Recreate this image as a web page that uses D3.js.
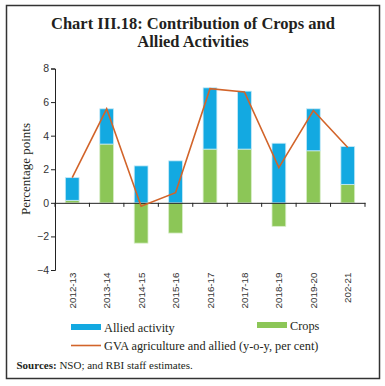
<!DOCTYPE html>
<html><head><meta charset="utf-8">
<script src="https://cdn.jsdelivr.net/npm/d3@7"></script>
<style>body{margin:0;background:#fff}svg{display:block}</style>
</head><body>
<svg id="c" width="385" height="386"></svg>
<script>
const categories = ["2012-13","2013-14","2014-15","2015-16","2016-17","2017-18","2018-19","2019-20","202-21"];
const crops = [0.15, 3.5, -2.4, -1.8, 3.2, 3.2, -1.4, 3.1, 1.1];
const allied = [1.35, 2.1, 2.2, 2.5, 3.65, 3.45, 3.55, 2.5, 2.25];
const gva = [1.5, 5.6, -0.2, 0.6, 6.8, 6.6, 2.1, 5.5, 3.3];
const yTicks = [-4, -2, 0, 2, 4, 6, 8];

const svg = d3.select("#c");
const serif = "'Liberation Serif','DejaVu Serif',serif";
const sans = "'Liberation Sans',Arial,sans-serif";
const colBlue = "#13a9e1", colGreen = "#8cc657", colOrange = "#d2642a";

svg.append("rect").attr("x",6.5).attr("y",5.5).attr("width",373).attr("height",373)
  .attr("fill","none").attr("stroke","#333").attr("stroke-width",1.5);

svg.append("text").attr("x",193).attr("y",29).attr("text-anchor","middle")
  .attr("font-family",serif).attr("font-weight","bold").attr("font-size",16.5).attr("fill","#231f20")
  .text("Chart III.18: Contribution of Crops and");
svg.append("text").attr("x",193).attr("y",46.5).attr("text-anchor","middle")
  .attr("font-family",serif).attr("font-weight","bold").attr("font-size",16.5).attr("fill","#231f20")
  .text("Allied Activities");

const x = d3.scaleBand().domain(categories).range([55, 365]).paddingInner(0.6).paddingOuter(0.3);
const xb = d3.scaleBand().domain(categories).range([55, 365]);
const y = d3.scaleLinear().domain([-4, 8]).range([270, 68.5]);

// y axis
const ya = svg.append("g").attr("transform","translate(55,0)")
  .call(d3.axisLeft(y).tickValues(yTicks).tickSize(4).tickFormat(d3.format("d")));
ya.select(".domain").attr("stroke","#222");
ya.selectAll(".tick line").attr("stroke","#222");
ya.selectAll(".tick text").attr("font-family",sans).attr("font-size",10.5).attr("fill","#333").attr("x",-6);

svg.append("text").attr("transform","translate(30,169) rotate(-90)").attr("text-anchor","middle")
  .attr("font-family",serif).attr("font-size",13).attr("fill","#231f20").text("Percentage points");

// bars
const bw = x.bandwidth();
const g = svg.append("g");
categories.forEach((c,i)=>{
  const cx = xb(c) + xb.bandwidth()/2;
  const cr = crops[i], al = allied[i];
  g.append("rect").attr("x",cx-bw/2).attr("width",bw)
    .attr("y", y(Math.max(0,cr))).attr("height", Math.abs(y(cr)-y(0)))
    .attr("fill",colGreen).attr("stroke","#d8eec8").attr("stroke-width",0.8);
  const base = cr > 0 ? cr : 0;
  g.append("rect").attr("x",cx-bw/2).attr("width",bw)
    .attr("y", y(base+al)).attr("height", y(base)-y(base+al))
    .attr("fill",colBlue).attr("stroke","#c6e9f7").attr("stroke-width",0.8);
});

// x axis
const xa = svg.append("g").attr("transform",`translate(0,${y(0)})`)
  .call(d3.axisBottom(xb).tickSize(0).tickFormat(""));
xa.select(".domain").attr("stroke","#222");
const bounds = categories.map(c=>xb(c)).concat([365]);
svg.append("g").selectAll("line").data(bounds).join("line")
  .attr("x1",d=>d).attr("x2",d=>d).attr("y1",y(0)).attr("y2",y(0)+4).attr("stroke","#222");

// x labels at bottom
svg.append("g").selectAll("text").data(categories).join("text")
  .attr("transform",d=>`translate(${xb(d)+xb.bandwidth()/2+3.5},272.5) rotate(-90)`)
  .attr("text-anchor","end").attr("font-family",sans).attr("font-size",9.8).attr("fill","#333")
  .text(d=>d);

// line
const line = d3.line().x((d,i)=>xb(categories[i])+xb.bandwidth()/2).y(d=>y(d));
svg.append("path").datum(gva).attr("d",line).attr("fill","none")
  .attr("stroke",colOrange).attr("stroke-width",1.6);

// legend
svg.append("rect").attr("x",71).attr("y",324).attr("width",30).attr("height",6).attr("fill",colBlue);
svg.append("text").attr("x",104).attr("y",331.5).attr("font-family",serif).attr("font-size",12.3).attr("fill","#231f20").text("Allied activity");
svg.append("rect").attr("x",257).attr("y",322).attr("width",30).attr("height",6).attr("fill",colGreen);
svg.append("text").attr("x",290).attr("y",329.5).attr("font-family",serif).attr("font-size",12.3).attr("fill","#231f20").text("Crops");
svg.append("line").attr("x1",71).attr("x2",101).attr("y1",345.5).attr("y2",345.5).attr("stroke",colOrange).attr("stroke-width",1.6);
svg.append("text").attr("x",104).attr("y",350).attr("font-family",serif).attr("font-size",12.3).attr("fill","#231f20").text("GVA agriculture and allied (y-o-y, per cent)");

const s = svg.append("text").attr("x",16.5).attr("y",369).attr("font-family",serif).attr("font-size",11).attr("fill","#231f20");
s.append("tspan").attr("font-weight","bold").text("Sources: ");
s.append("tspan").text("NSO; and RBI staff estimates.");
</script>
</body></html>
